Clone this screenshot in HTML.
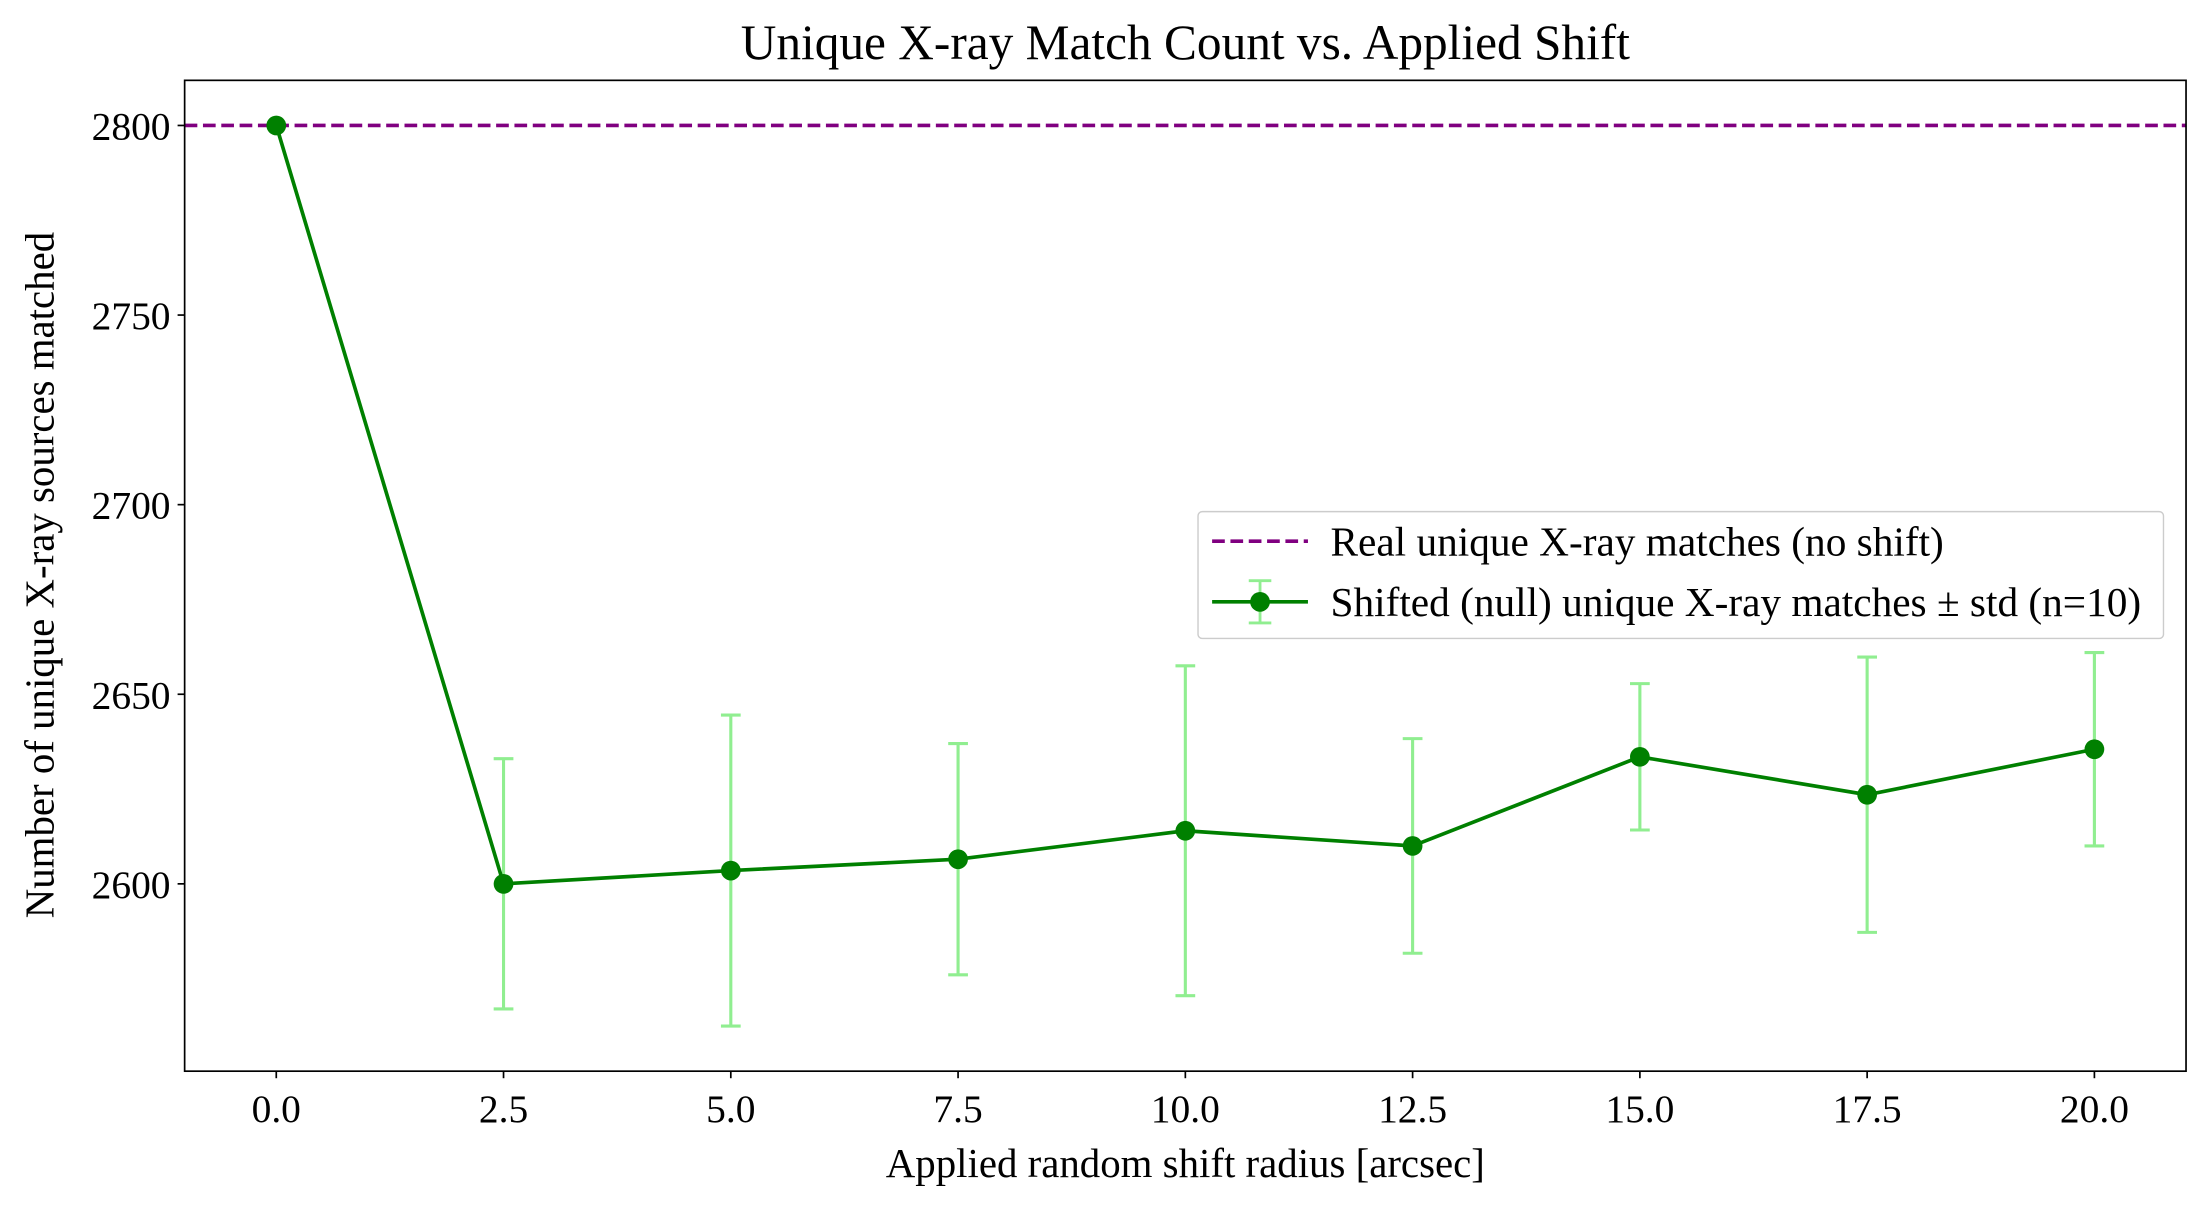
<!DOCTYPE html>
<html><head><meta charset="utf-8"><style>
html,body{margin:0;padding:0;background:#fff;}
svg{display:block;font-family:"Liberation Serif",serif;}
</style></head><body>
<svg id="chart" width="2210" height="1210" viewBox="0 0 1568 858.5" xmlns="http://www.w3.org/2000/svg">
<rect width="1568" height="858.5" fill="#fff"/>
<text x="841" y="42" font-size="35" text-anchor="middle">Unique X-ray Match Count vs. Applied Shift</text>
<g id="plot"></g>
<rect x="131" y="57" width="1420" height="703" fill="none" stroke="#000" stroke-width="1.2"/>
<text x="841" y="835" font-size="29" text-anchor="middle">Applied random shift radius [arcsec]</text>
<text transform="translate(38,408) rotate(-90)" font-size="29" text-anchor="middle">Number of unique X-ray sources matched</text>
<g>
<rect x="850" y="363" width="685" height="90" rx="3" fill="#fff" fill-opacity="0.8" stroke="#ccc" stroke-width="1"/>
<line x1="860" y1="384" x2="928" y2="384" stroke="#800080" stroke-width="2.6" stroke-dasharray="9,4"/>
<text x="944" y="394" font-size="29.3">Real unique X-ray matches (no shift)</text>
<line x1="860" y1="427" x2="928" y2="427" stroke="#008000" stroke-width="2.6"/>
<line x1="894" y1="412" x2="894" y2="442" stroke="#90ee90" stroke-width="2"/>
<line x1="886" y1="412" x2="902" y2="412" stroke="#90ee90" stroke-width="2"/>
<line x1="886" y1="442" x2="902" y2="442" stroke="#90ee90" stroke-width="2"/>
<circle cx="894" cy="427" r="7" fill="#008000"/>
<text x="944" y="437" font-size="29.3">Shifted (null) unique X-ray matches ± std (n=10)</text>
</g>
</svg>
<script>
const shifts=[0,2.5,5,7.5,10,12.5,15,17.5,20];
const counts=[2800,2600,2603.5,2606.5,2614,2610,2633.5,2623.5,2635.5];
const stds=[0,33,41,30.5,43.5,28.3,19.3,36.3,25.5];
const realValue=2800;
const xTicks=[0,2.5,5,7.5,10,12.5,15,17.5,20];
const yTicks=[2600,2650,2700,2750,2800];
const L=131,R=1551,T=57,B=760;
const xmin=-1.008,xmax=21.008,ymin=2550.6,ymax=2811.9;
const X=v=>L+(v-xmin)/(xmax-xmin)*(R-L);
const Y=v=>B-(v-ymin)/(ymax-ymin)*(B-T);
const NS="http://www.w3.org/2000/svg";
const g=document.getElementById('plot');
function mk(t,a){const e=document.createElementNS(NS,t);for(const k in a)e.setAttribute(k,a[k]);g.appendChild(e);return e;}
xTicks.forEach(v=>{
 const l=mk('line',{x1:X(v),x2:X(v),y1:B,y2:B+5,stroke:'#000','stroke-width':1.2});
 
 
 const t=mk('text',{x:X(v),y:B+36,'font-size':28,'text-anchor':'middle'});t.textContent=v.toFixed(1);
 
 
});
yTicks.forEach(v=>{
 const l=mk('line',{x1:L-5,x2:L,y1:Y(v),y2:Y(v),stroke:'#000','stroke-width':1.2});
 
 
 const t=mk('text',{x:L-10,y:Y(v)+10,'font-size':28,'text-anchor':'end'});t.textContent=v;
 
 
});
const ref=mk('line',{x1:L,x2:R,y1:Y(realValue),y2:Y(realValue),stroke:'#800080','stroke-width':2.6,'stroke-dasharray':'9,4'});


shifts.forEach((s,i)=>{
 if(stds[i]<=0)return;
 const x=X(s),y1=Y(counts[i]-stds[i]),y2=Y(counts[i]+stds[i]);
 const e=mk('path',{d:`M${x},${y1}V${y2}M${x-7},${y1}H${x+7}M${x-7},${y2}H${x+7}`,stroke:'#90ee90','stroke-width':2.2,fill:'none'});
 
 
});
const pl=mk('polyline',{points:shifts.map((s,i)=>X(s)+','+Y(counts[i])).join(' '),fill:'none',stroke:'#008000','stroke-width':2.6});


shifts.forEach((s,i)=>{
 const c=mk('circle',{cx:X(s),cy:Y(counts[i]),r:7,fill:'#008000'});
 
 
});
</script>
</body></html>
